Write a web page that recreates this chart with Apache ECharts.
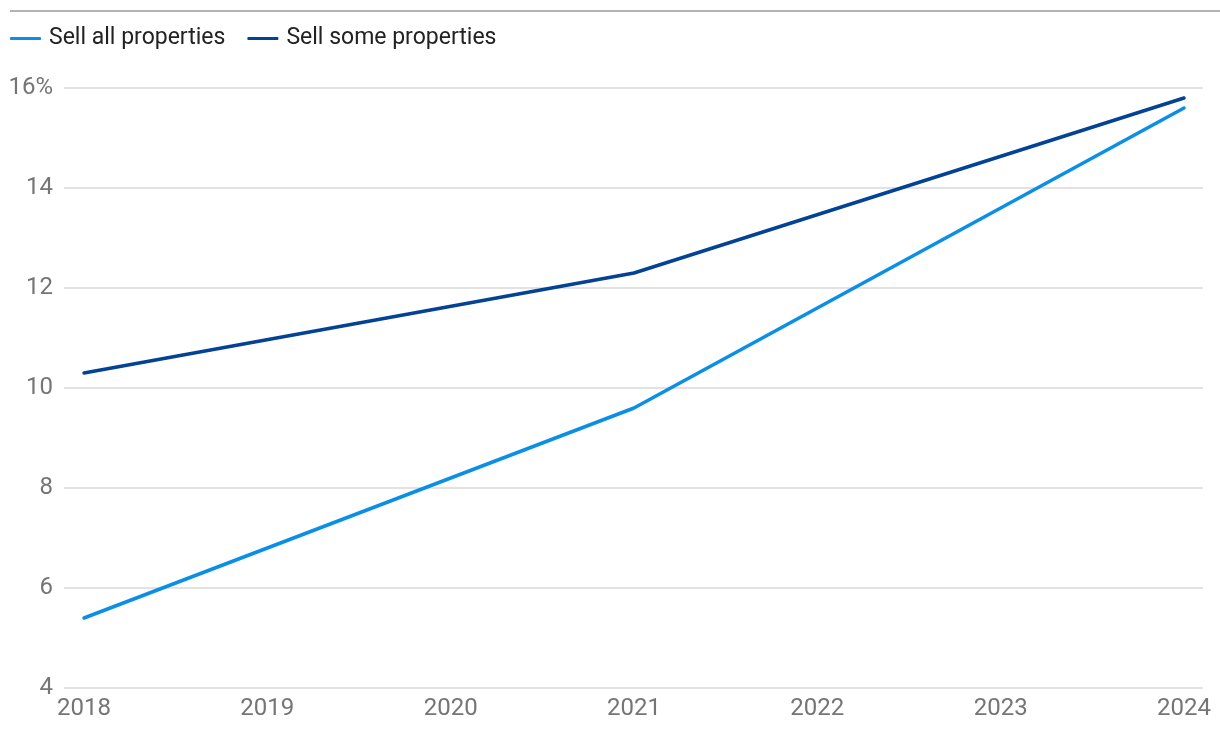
<!DOCTYPE html>
<html>
<head>
<meta charset="utf-8">
<script src="https://cdn.jsdelivr.net/npm/echarts@6/dist/echarts.min.js"></script>
<style>
html,body{margin:0;padding:0;background:#fff;}
#chart{width:1220px;height:732px;}
</style>
</head>
<body>
<div id="chart"></div>
<script>
const years = [2018, 2021, 2024];
const xTickLabels = [2018, 2019, 2020, 2021, 2022, 2023, 2024];
const sellAll = [5.4, 9.6, 15.6];
const sellSome = [10.3, 12.3, 15.8];
const seriesNames = ['Sell all properties', 'Sell some properties'];

const FONT = 'Roboto';
const chart = echarts.init(document.getElementById('chart'), null, {renderer: 'canvas'});
const pairs = (vals) => years.map((y, i) => [y, vals[i]]);

chart.setOption({
  animation: false,
  backgroundColor: '#ffffff',
  textStyle: {fontFamily: FONT},
  graphic: [{
    type: 'line',
    shape: {x1: 10, y1: 11, x2: 1220, y2: 11},
    style: {stroke: '#b3b3b3', lineWidth: 2}
  }],
  legend: {
    left: 5,
    top: 22,
    itemWidth: 31,
    itemHeight: 3,
    itemGap: 22,
    icon: 'roundRect',
    textStyle: {fontFamily: FONT, fontSize: 23, color: '#222222', padding: [0, 0, 0, 3]},
    data: seriesNames
  },
  grid: {left: 64, right: 17, top: 88, bottom: 44, containLabel: false, outerBoundsMode: 'none'},
  xAxis: {
    type: 'value',
    min: 2018 - 20 / 183.33,
    max: 2024 + 19 / 183.33,
    axisLine: {show: false},
    axisTick: {show: false},
    splitLine: {show: false},
    axisLabel: {
      customValues: xTickLabels,
      margin: 9,
      fontFamily: FONT,
      fontSize: 24,
      color: '#757575',
      formatter: (v) => String(Math.round(v))
    }
  },
  yAxis: {
    type: 'value',
    min: 4,
    max: 16,
    interval: 2,
    axisLine: {show: false},
    axisTick: {show: false},
    splitLine: {lineStyle: {color: '#d9d9d9', width: 1.5}},
    axisLabel: {
      margin: 11,
      fontFamily: FONT,
      fontSize: 24,
      color: '#757575',
      formatter: (v) => v === 16 ? v + '%' : String(v)
    }
  },
  series: [
    {
      name: seriesNames[0],
      type: 'line',
      data: pairs(sellAll),
      showSymbol: false,
      symbol: 'none',
      color: '#0b8fe4',
      lineStyle: {width: 3.5, color: '#0b8fe4', cap: 'round'}
    },
    {
      name: seriesNames[1],
      type: 'line',
      data: pairs(sellSome),
      showSymbol: false,
      symbol: 'none',
      color: '#034294',
      lineStyle: {width: 3.5, color: '#034294', cap: 'round'}
    }
  ]
});
</script>
</body>
</html>
